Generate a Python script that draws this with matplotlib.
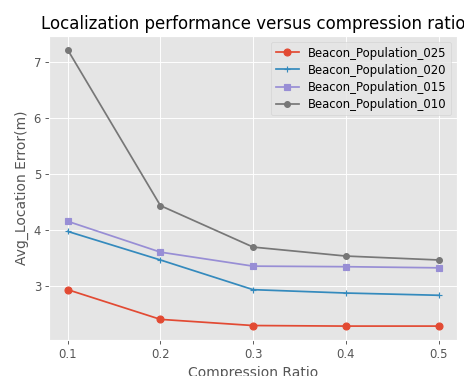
import numpy as np
import matplotlib
matplotlib.use("Agg")
import matplotlib.pyplot as plt

plt.style.use("ggplot")

ratios = [0.1, 0.2, 0.3, 0.4, 0.5]
pop_025 = [2.93, 2.40, 2.29, 2.28, 2.28]
pop_020 = [3.97, 3.46, 2.93, 2.87, 2.83]
pop_015 = [4.15, 3.60, 3.35, 3.34, 3.32]
pop_010 = [7.21, 4.43, 3.69, 3.53, 3.46]

# original looks like a default-sized figure scaled down to 464x376
dpi = 250 / 3
fig, ax = plt.subplots(figsize=(5.5685, 4.5125), dpi=dpi)

ax.plot(ratios, pop_025, marker="o", label="Beacon_Population_025")
ax.plot(ratios, pop_020, marker="+", label="Beacon_Population_020")
ax.plot(ratios, pop_015, marker="s", label="Beacon_Population_015")
ax.plot(ratios, pop_010, marker="o", markersize=5, label="Beacon_Population_010")

ax.set_xticks(ratios)
ax.set_title("Localization performance versus compression ratio")
ax.set_xlabel("Compression Ratio")
ax.set_ylabel("Avg_Location Error(m)")
ax.legend(loc="upper right", labelspacing=0.35)

plt.subplots_adjust(left=0.106, right=0.985, top=0.904, bottom=0.096)
plt.savefig("out.png", dpi=dpi)
